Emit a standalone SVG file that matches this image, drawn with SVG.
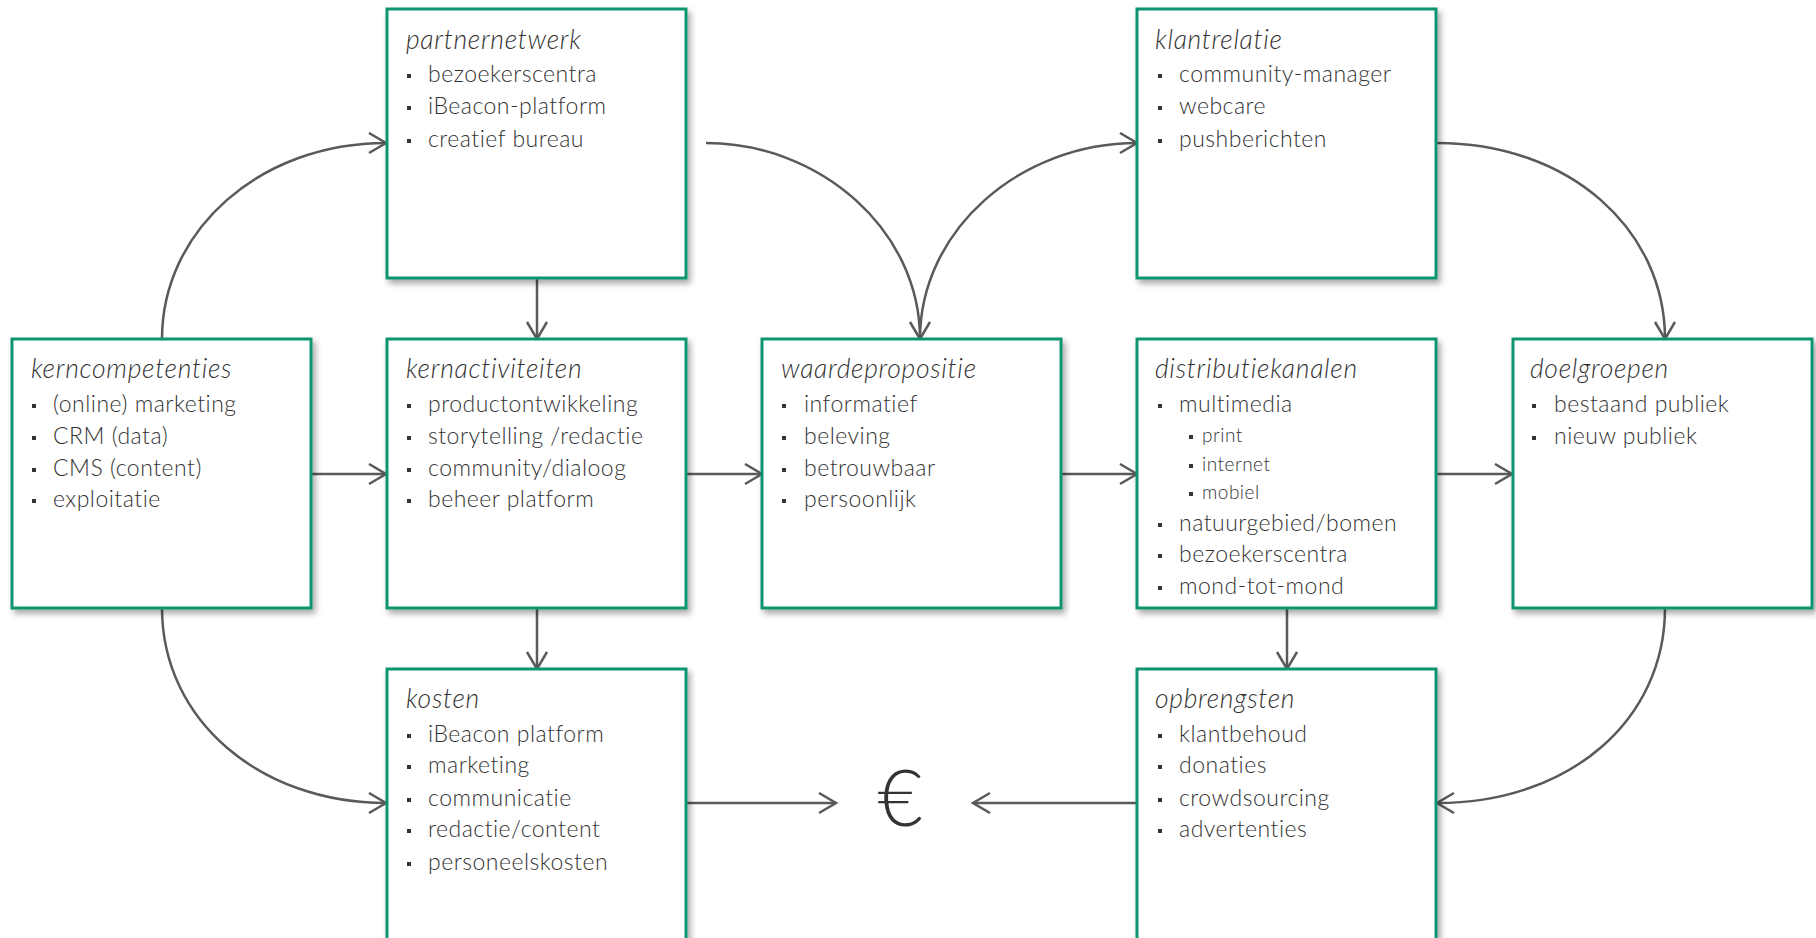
<svg xmlns="http://www.w3.org/2000/svg" width="1816" height="938" viewBox="0 0 1816 938">
<style>
.box{fill:#fff;stroke:#0f9470;stroke-width:3;filter:url(#sh)}
.t{font-family:Lato,"Open Sans","Liberation Sans",sans-serif;font-style:italic;font-weight:300;font-size:26.5px;letter-spacing:0.7px;fill:#333}
.i{font-family:Lato,"Open Sans","Liberation Sans",sans-serif;font-weight:300;font-size:23px;letter-spacing:0.5px;fill:#333}
.s{font-family:Lato,"Open Sans","Liberation Sans",sans-serif;font-weight:300;font-size:19px;letter-spacing:0.5px;fill:#333}
.b{fill:#333}
.c{fill:none;stroke:#5a5a5a;stroke-width:2.5;marker-end:url(#ah)}
</style>
<defs>
<filter id="sh" x="-10%" y="-10%" width="125%" height="125%">
<feDropShadow dx="3" dy="4" stdDeviation="3" flood-color="#000" flood-opacity="0.35"/>
</filter>
<marker id="ah" markerUnits="userSpaceOnUse" markerWidth="24" markerHeight="24" refX="18" refY="11" orient="auto">
<path d="M1,1 L18,11 L1,21" fill="none" stroke="#5a5a5a" stroke-width="2.5"/>
</marker>
</defs>
<rect width="1816" height="938" fill="#fff"/>
<g id="connectors">
<path class="c" d="M162,339 C162,230 260,143 386,143"/>
<path class="c" d="M162,608 C162,720 260,803 386,803"/>
<path class="c" d="M706,143 C820,143 920,230 920,339"/>
<path class="c" d="M920,339 C920,230 1020,143 1137,143"/>
<path class="c" d="M1437,143 C1570,143 1665,230 1665,339"/>
<path class="c" d="M1665,608 C1665,720 1570,803 1437,803"/>
<path class="c" d="M537,278 L537,339"/>
<path class="c" d="M312,474 L386,474"/>
<path class="c" d="M687,474 L762,474"/>
<path class="c" d="M1062,474 L1137,474"/>
<path class="c" d="M1437,474 L1512,474"/>
<path class="c" d="M537,608 L537,669"/>
<path class="c" d="M1287,608 L1287,669"/>
<path class="c" d="M687,803 L836,803"/>
<path class="c" d="M1137,803 L973,803"/>
</g>
<g id="partnernetwerk">
<rect class="box" x="387" y="9" width="299" height="269"/>
<text class="t" x="406" y="49">partnernetwerk</text>
<rect class="b" x="407" y="74" width="4" height="4"/><text class="i" x="428" y="82">bezoekerscentra</text>
<rect class="b" x="407" y="106" width="4" height="4"/><text class="i" x="428" y="114">iBeacon-platform</text>
<rect class="b" x="407" y="139" width="4" height="4"/><text class="i" x="428" y="147">creatief bureau</text>
</g>
<g id="klantrelatie">
<rect class="box" x="1137" y="9" width="299" height="269"/>
<text class="t" x="1155" y="49">klantrelatie</text>
<rect class="b" x="1158" y="74" width="4" height="4"/><text class="i" x="1179" y="82">community-manager</text>
<rect class="b" x="1158" y="106" width="4" height="4"/><text class="i" x="1179" y="114">webcare</text>
<rect class="b" x="1158" y="139" width="4" height="4"/><text class="i" x="1179" y="147">pushberichten</text>
</g>
<g id="kerncompetenties">
<rect class="box" x="12" y="339" width="299" height="269"/>
<text class="t" x="31" y="378">kerncompetenties</text>
<rect class="b" x="32" y="404" width="4" height="4"/><text class="i" x="53" y="412">(online) marketing</text>
<rect class="b" x="32" y="436" width="4" height="4"/><text class="i" x="53" y="444">CRM (data)</text>
<rect class="b" x="32" y="468" width="4" height="4"/><text class="i" x="53" y="476">CMS (content)</text>
<rect class="b" x="32" y="499" width="4" height="4"/><text class="i" x="53" y="507">exploitatie</text>
</g>
<g id="kernactiviteiten">
<rect class="box" x="387" y="339" width="299" height="269"/>
<text class="t" x="406" y="378">kernactiviteiten</text>
<rect class="b" x="407" y="404" width="4" height="4"/><text class="i" x="428" y="412">productontwikkeling</text>
<rect class="b" x="407" y="436" width="4" height="4"/><text class="i" x="428" y="444">storytelling /redactie</text>
<rect class="b" x="407" y="468" width="4" height="4"/><text class="i" x="428" y="476">community/dialoog</text>
<rect class="b" x="407" y="499" width="4" height="4"/><text class="i" x="428" y="507">beheer platform</text>
</g>
<g id="waardepropositie">
<rect class="box" x="762" y="339" width="299" height="269"/>
<text class="t" x="781" y="378">waardepropositie</text>
<rect class="b" x="782" y="404" width="4" height="4"/><text class="i" x="804" y="412">informatief</text>
<rect class="b" x="782" y="436" width="4" height="4"/><text class="i" x="804" y="444">beleving</text>
<rect class="b" x="782" y="468" width="4" height="4"/><text class="i" x="804" y="476">betrouwbaar</text>
<rect class="b" x="782" y="499" width="4" height="4"/><text class="i" x="804" y="507">persoonlijk</text>
</g>
<g id="distributiekanalen">
<rect class="box" x="1137" y="339" width="299" height="269"/>
<text class="t" x="1155" y="378">distributiekanalen</text>
<rect class="b" x="1158" y="404" width="4" height="4"/><text class="i" x="1179" y="412">multimedia</text>
<rect class="b" x="1189" y="435" width="4" height="4"/><text class="s" x="1202" y="442">print</text>
<rect class="b" x="1189" y="464" width="4" height="4"/><text class="s" x="1202" y="471">internet</text>
<rect class="b" x="1189" y="492" width="4" height="4"/><text class="s" x="1202" y="499">mobiel</text>
<rect class="b" x="1158" y="523" width="4" height="4"/><text class="i" x="1179" y="531">natuurgebied/bomen</text>
<rect class="b" x="1158" y="554" width="4" height="4"/><text class="i" x="1179" y="562">bezoekerscentra</text>
<rect class="b" x="1158" y="586" width="4" height="4"/><text class="i" x="1179" y="594">mond-tot-mond</text>
</g>
<g id="doelgroepen">
<rect class="box" x="1513" y="339" width="299" height="269"/>
<text class="t" x="1530" y="378">doelgroepen</text>
<rect class="b" x="1532" y="404" width="4" height="4"/><text class="i" x="1554" y="412">bestaand publiek</text>
<rect class="b" x="1532" y="436" width="4" height="4"/><text class="i" x="1554" y="444">nieuw publiek</text>
</g>
<g id="kosten">
<rect class="box" x="387" y="669" width="299" height="290"/>
<text class="t" x="406" y="708">kosten</text>
<rect class="b" x="407" y="734" width="4" height="4"/><text class="i" x="428" y="742">iBeacon platform</text>
<rect class="b" x="407" y="765" width="4" height="4"/><text class="i" x="428" y="773">marketing</text>
<rect class="b" x="407" y="798" width="4" height="4"/><text class="i" x="428" y="806">communicatie</text>
<rect class="b" x="407" y="829" width="4" height="4"/><text class="i" x="428" y="837">redactie/content</text>
<rect class="b" x="407" y="862" width="4" height="4"/><text class="i" x="428" y="870">personeelskosten</text>
</g>
<g id="opbrengsten">
<rect class="box" x="1137" y="669" width="299" height="290"/>
<text class="t" x="1155" y="708">opbrengsten</text>
<rect class="b" x="1158" y="734" width="4" height="4"/><text class="i" x="1179" y="742">klantbehoud</text>
<rect class="b" x="1158" y="765" width="4" height="4"/><text class="i" x="1179" y="773">donaties</text>
<rect class="b" x="1158" y="798" width="4" height="4"/><text class="i" x="1179" y="806">crowdsourcing</text>
<rect class="b" x="1158" y="829" width="4" height="4"/><text class="i" x="1179" y="837">advertenties</text>
</g>
<g id="euro">
<text x="900" y="826" text-anchor="middle" style="font-family:Lato,'Open Sans','Liberation Sans',sans-serif;font-weight:300;font-size:78px;fill:#333">€</text>
</g>
</svg>
